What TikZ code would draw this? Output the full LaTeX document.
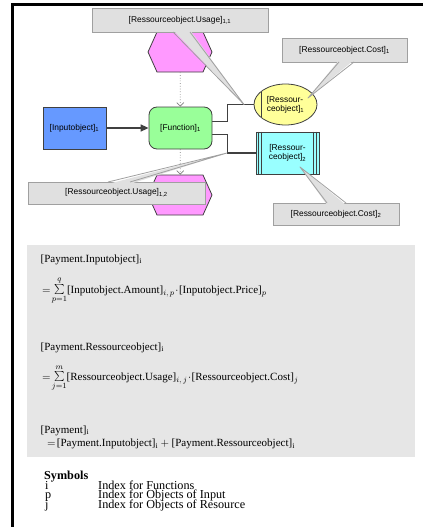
\documentclass[tikz,border=0pt]{standalone}
\usepackage{fontspec}
\setmainfont{Liberation Serif}
\newfontfamily\dgmfont{Liberation Sans}
\usetikzlibrary{shapes.symbols,shapes.geometric,arrows.meta}
\pgfdeclarelayer{background}
\pgfsetlayers{background,main}

\definecolor{inblue}{HTML}{6699FF}
\definecolor{fngreen}{HTML}{99FF99}
\definecolor{hexpink}{HTML}{FF99FF}
\definecolor{resyellow}{HTML}{FFFF99}
\definecolor{rescyan}{HTML}{99FFFF}
\definecolor{notefill}{HTML}{E0E0E0}
\definecolor{noteline}{HTML}{A0A0A0}
\definecolor{panelgray}{HTML}{E6E6E6}
\definecolor{linegray}{HTML}{404040}

% a larger summation sign with limits, for the cost formulas
\newcommand{\bigsumsign}{\mathop{\mbox{\fontsize{14}{14}\selectfont$\sum$}}\limits}

\tikzset{
  dgm/.style={font=\dgmfont\fontsize{8.4}{9}\selectfont, inner sep=0pt},
  objbox/.style={dgm, draw=linegray, line width=0.8pt, minimum width=63pt, minimum height=42pt},
  hexa/.style={signal, signal to=east and west, signal pointer angle=131.5,
    draw=linegray, line width=0.8pt, fill=hexpink, minimum width=64pt, minimum height=40pt, inner sep=0pt},
  note/.style={dgm, draw=noteline, line width=0.8pt, fill=notefill},
  wedgefill/.style={fill=notefill},
  wedgeline/.style={draw=noteline, line width=0.8pt, line join=round},
  conn/.style={draw=linegray, line width=1.1pt},
  flow/.style={draw=linegray, line width=1.5pt, -{Triangle[length=8pt,width=7pt]}},
  assign/.style={draw=gray, line width=0.7pt, dotted, -{Straight Barb[length=3.5pt,width=7pt]}},
  ftext/.style={font=\fontsize{11}{13}\selectfont, inner sep=0pt, anchor=base west},
  symtext/.style={font=\fontsize{12.2}{13}\selectfont, inner sep=0pt, anchor=base west},
}

\begin{document}
\begin{tikzpicture}[x=1pt,y=-1pt]
\useasboundingbox (0,0) rectangle (423,527);

% page frame: top and left rule
\draw[line width=3pt] (12.5,527) -- (12.5,4.5) -- (423,4.5);

% formula panel
\fill[panelgray] (27,245) rectangle (415,457);

% ---- process chain ----
\node[hexa] (hexA) at (180,52) {};
\node[hexa] (hexB) at (180,195) {};
\node[objbox, fill=inblue] (inp) at (74.5,128) {[Inputobject]\textsubscript{1}};
\node[objbox, fill=fngreen, rounded corners=8pt] (fn) at (180.5,128) {[Function]\textsubscript{1}};
\node[dgm, ellipse, draw=linegray, line width=0.8pt, fill=resyellow,
      minimum width=63pt, minimum height=41pt, align=left] (resA) at (285.5,104.5)
      {[Ressour-\\ceobject]\textsubscript{1}};
\node[objbox, fill=rescyan, align=center] (resB) at (287.5,153)
      {[Ressour-\\ceobject]\textsubscript{2}};

% chord of the resource ellipse
\draw[linegray, line width=0.8pt] ([xshift=7.5pt,yshift=12.9pt]resA.west) -- ([xshift=7.5pt,yshift=-12.9pt]resA.west);
% double side bars of the resource box
\foreach \d in {3,6}{
  \draw[linegray, line width=0.7pt] ([xshift=\d pt]resB.north west) -- ([xshift=\d pt]resB.south west);
  \draw[linegray, line width=0.7pt] ([xshift=-\d pt]resB.north east) -- ([xshift=-\d pt]resB.south east);
}

\begin{pgfonlayer}{background}
  \draw[flow] (inp) -- (fn);
  \draw[assign] (hexA) -- (fn);
  \draw[assign] (fn) -- (hexB);
  \draw[conn] ([yshift=6.5pt]fn.east) -- ++(15,0) |- (resA.west);
  \draw[conn] ([yshift=-6.5pt]fn.east) -- ++(15,0) |- (resB.west);
\end{pgfonlayer}

% ---- callouts ----
\coordinate (tipA) at (244,104.5);
\coordinate (tipB) at (308,98);
\coordinate (tipC) at (227,153);
\coordinate (tipD) at (300,167);

\node[note, minimum width=176pt, minimum height=24pt] (cA) at (180,20)
  {[Ressourceobject.Usage]\textsubscript{1,1}};
\fill[wedgefill] (173,30) -- (tipA) -- (190,30) -- cycle;
\draw[wedgeline] (173,32) -- (tipA) -- (190,32);

\node[note, minimum width=125pt, minimum height=24pt] (cB) at (344.5,50)
  {[Ressourceobject.Cost]\textsubscript{1}};
\fill[wedgefill] (339,60) -- (tipB) -- (354,60) -- cycle;
\draw[wedgeline] (339,62) -- (tipB) -- (354,62);

\node[note, minimum width=177pt, minimum height=22pt] (cC) at (116.5,193)
  {[Ressourceobject.Usage]\textsubscript{1,2}};
\fill[wedgefill] (108,184) -- (tipC) -- (130,184) -- cycle;
\draw[wedgeline] (108,182) -- (tipC) -- (130,182);

\node[note, minimum width=126pt, minimum height=22.5pt] (cD) at (336,214.2)
  {[Ressourceobject.Cost]\textsubscript{2}};
\fill[wedgefill] (327,205) -- (tipD) -- (346,205) -- cycle;
\draw[wedgeline] (327,203) -- (tipD) -- (346,203);

% ---- cost formulas ----
\node[ftext] (f1) at (40.5,262) {[Payment.Inputobject]\textsubscript{i}};
\node[ftext] (f2) at (42,293)
  {$=\!\bigsumsign_{p=1}^{q}\!\mbox{[Inputobject.Amount]}_{i,\,p}\!\cdot\!\mbox{[Inputobject.Price]}_{p}$};
\node[ftext] (f3) at (40.5,350) {[Payment.Ressourceobject]\textsubscript{i}};
\node[ftext] (f4) at (42,380)
  {$=\!\bigsumsign_{j=1}^{m}\!\mbox{[Ressourceobject.Usage]}_{i,\,j}\!\cdot\!\mbox{[Ressourceobject.Cost]}_{j}$};
\node[ftext] (f5) at (40.5,433) {[Payment]\textsubscript{i}};
\node[ftext] (f6) at (47,446)
  {$=\!\mbox{[Payment.Inputobject]}_{\mathrm{i}}+\mbox{[Payment.Ressourceobject]}_{\mathrm{i}}$};

% ---- symbol legend ----
\node[symtext] (sh) at (44,479) {\bfseries Symbols};
\node[symtext] (si) at (45,489) {i};
\node[symtext] (sid) at (98,489) {Index for Functions};
\node[symtext] (sp) at (45,498.5) {p};
\node[symtext] (spd) at (98,498.5) {Index for Objects of Input};
\node[symtext] (sj) at (45,508) {j};
\node[symtext] (sjd) at (98,508) {Index for Objects of Resource};
\end{tikzpicture}
\end{document}
